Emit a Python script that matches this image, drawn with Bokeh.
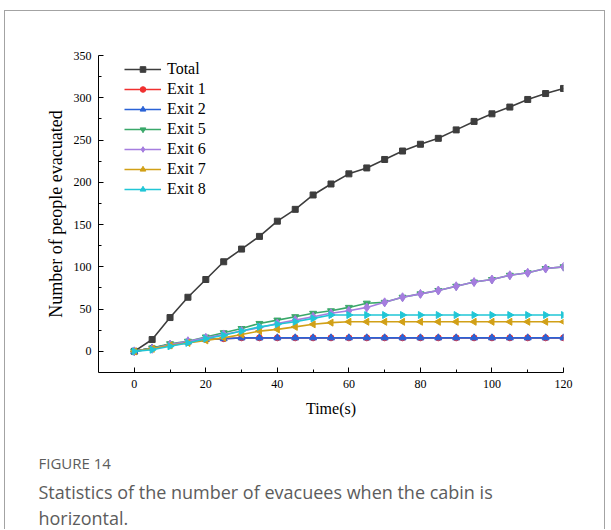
import math
from bokeh.plotting import figure
from bokeh.models import Range1d, Legend, LegendItem, FixedTicker, Title
from bokeh.embed import file_html
from bokeh.resources import INLINE

# ---- data ----
time_s = [0, 5, 10, 15, 20, 25, 30, 35, 40, 45, 50, 55, 60, 65, 70, 75, 80, 85, 90, 95, 100, 105, 110, 115, 120]
total = [0, 14, 40, 64, 85, 106, 121, 136, 154, 168, 185, 198, 210, 217, 227, 237, 245, 252, 262, 272, 281, 289, 298, 305, 311]
exit1 = [0, 4, 8, 11, 14, 15, 16, 16, 16, 16, 16, 16, 16, 16, 16, 16, 16, 16, 16, 16, 16, 16, 16, 16, 16]
exit2 = [0, 4, 8, 11, 14, 15, 16, 16, 16, 16, 16, 16, 16, 16, 16, 16, 16, 16, 16, 16, 16, 16, 16, 16, 16]
exit5 = [0, 4, 9, 12, 17, 22, 27, 33, 37, 41, 45, 48, 52, 57, 58, 64, 68, 72, 77, 82, 85, 90, 93, 98, 100]
exit6 = [0, 3, 8, 12, 16, 20, 24, 28, 33, 37, 41, 45, 48, 52, 58, 64, 68, 72, 77, 82, 85, 90, 93, 98, 100]
exit7 = [0, 3, 7, 10, 13, 16, 20, 24, 26, 29, 32, 34, 35, 35, 35, 35, 35, 35, 35, 35, 35, 35, 35, 35, 35]
exit8 = [0, 2, 6, 10, 15, 19, 24, 29, 32, 35, 39, 43, 43, 43, 43, 43, 43, 43, 43, 43, 43, 43, 43, 43, 43]

series_names = ["Total", "Exit 1", "Exit 2", "Exit 5", "Exit 6", "Exit 7", "Exit 8"]
x_ticks = [0, 20, 40, 60, 80, 100, 120]
x_minor = [10, 30, 50, 70, 90, 110]
y_ticks = [0, 50, 100, 150, 200, 250, 300, 350]
y_minor = [25, 75, 125, 175, 225, 275, 325]

caption_title = "FIGURE 14"
caption_line1 = "Statistics of the number of evacuees when the cabin is"
caption_line2 = "horizontal."

# ---- figure ----
p = figure(width=601, height=519, output_backend="svg", toolbar_location=None,
           x_range=Range1d(-10, 120), y_range=Range1d(-25, 350),
           min_border_left=93, min_border_right=43, min_border_top=44, min_border_bottom=158)
# card outline around the figure
p.styles = {"margin-left": "4px", "margin-top": "10px",
            "border-left": "1px solid #a3a3a3", "border-top": "1px solid #a3a3a3",
            "border-right": "1px solid #a3a3a3"}
p.xgrid.visible = False
p.ygrid.visible = False
p.outline_line_color = None
p.background_fill_color = "white"
p.border_fill_color = "white"

for ax in (p.xaxis[0], p.yaxis[0]):
    ax.axis_line_color = "black"
    ax.axis_line_width = 1
    ax.major_tick_in = 5
    ax.major_tick_out = 0
    ax.minor_tick_in = 3
    ax.minor_tick_out = 0
    ax.major_tick_line_color = "black"
    ax.minor_tick_line_color = "black"
    ax.major_label_text_font = "Liberation Serif"
    ax.major_label_text_font_size = "12px"
    ax.major_label_text_color = "black"
    ax.axis_label_text_font = "Liberation Serif"
    ax.axis_label_text_font_style = "normal"
    ax.axis_label_text_color = "black"

p.xaxis[0].ticker = FixedTicker(ticks=x_ticks, minor_ticks=x_minor)
p.yaxis[0].ticker = FixedTicker(ticks=y_ticks, minor_ticks=y_minor)
p.xaxis[0].axis_label = "Time(s)"
p.yaxis[0].axis_label = "Number of people evacuated"
p.xaxis[0].axis_label_text_font_size = "16px"
p.yaxis[0].axis_label_text_font_size = "18px"
p.xaxis[0].major_label_standoff = 7
p.yaxis[0].major_label_standoff = 7
p.xaxis[0].axis_label_standoff = 9
p.yaxis[0].axis_label_standoff = 5

series = [
    (total, "#3d3d3d", "square", 0.0, 6),
    (exit1, "#f03030", "circle", 0.0, 6),
    (exit2, "#2a62d6", "triangle", 0.0, 7),
    (exit5, "#3aa86a", "inverted_triangle", 0.0, 7),
    (exit6, "#a57ddf", "diamond", 0.0, 9),
    (exit7, "#d1a017", "triangle", math.pi / 2, 7),
    (exit8, "#21c6d6", "triangle", -math.pi / 2, 7),
]

items = []
for name, (vals, color, marker, ang, sz) in zip(series_names, series):
    lr = p.line(time_s, vals, line_color=color, line_width=1.6)
    sr = p.scatter(time_s, vals, marker=marker, angle=ang, size=sz,
                   fill_color=color, line_color=color)
    items.append(LegendItem(label=name, renderers=[lr, sr]))

legend = Legend(items=items, location=(26, 173))
legend.label_text_font = "Liberation Serif"
legend.label_text_font_size = "16px"
legend.label_text_color = "black"
legend.glyph_width = 37
legend.glyph_height = 14
legend.label_height = 20
legend.spacing = 0
legend.padding = 2
legend.margin = 0
legend.label_standoff = 6
legend.background_fill_alpha = 0
legend.border_line_color = None
p.add_layout(legend)

# caption as stacked titles below the x axis (first one is an empty spacer)
spacer = Title(text=" ", text_font_size="2px", standoff=23)
t1 = Title(text=caption_title, align="left", offset=-60, standoff=9,
           text_font="Open Sans", text_font_size="15px", text_font_style="normal",
           text_color="#5c5c5c")
t2 = Title(text=caption_line1, align="left", offset=-60, standoff=0,
           text_font="Open Sans", text_font_size="18px", text_font_style="normal",
           text_color="#5c5c5c")
t3 = Title(text=caption_line2, align="left", offset=-60, standoff=0,
           text_font="Open Sans", text_font_size="18px", text_font_style="normal",
           text_color="#5c5c5c")
p.add_layout(spacer, "below")
p.add_layout(t1, "below")
p.add_layout(t2, "below")
p.add_layout(t3, "below")

open("out.html", "w").write(file_html(p, INLINE))
